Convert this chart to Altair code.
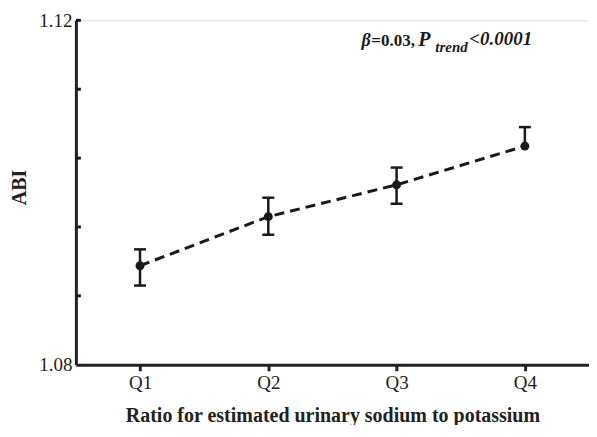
import altair as alt
import pandas as pd

quartiles = ["Q1", "Q2", "Q3", "Q4"]
abi_mean = [1.0915, 1.0972, 1.1009, 1.1054]
ci_low = [1.0892, 1.0951, 1.0987, 1.1054]
ci_high = [1.0934, 1.0994, 1.1029, 1.1076]
y_minor_ticks = [1.088, 1.096, 1.104, 1.112, 1.12]
y_labels = [1.08, 1.12]

FONT = "'Liberation Serif', 'Times New Roman', 'DejaVu Serif', serif"

df = pd.DataFrame({"q": quartiles, "abi": abi_mean, "lo": ci_low, "hi": ci_high})
caps = pd.DataFrame({
    "q": quartiles + quartiles,
    "v": ci_low + ci_high,
    "m": abi_mean + abi_mean,
})
caps = caps[caps["v"] != caps["m"]]
ticks_df = pd.DataFrame({"t": y_minor_ticks})

xs = alt.Scale(type="point", domain=quartiles, padding=0.5)
ys = alt.Scale(domain=[1.08, 1.12], nice=False, zero=False)

x_enc = alt.X("q:N", scale=xs, sort=quartiles,
              axis=alt.Axis(title="Ratio for estimated urinary sodium to potassium",
                            labelAngle=0, labelFontSize=19, labelFont=FONT, labelColor="#222",
                            titleFont=FONT, titleFontSize=20, titleFontWeight="bold",
                            titleColor="#222", titlePadding=13,
                            domainColor="#222", domainWidth=3, tickColor="#222",
                            tickWidth=3, tickSize=6, labelPadding=3, grid=False))
y_enc = alt.Y("abi:Q", scale=ys,
              axis=alt.Axis(title="ABI", values=y_labels, format=".2f",
                            labelFontSize=19, labelFont=FONT, labelColor="#222",
                            titleFont=FONT, titleFontSize=20, titleFontWeight="bold",
                            titleColor="#222", titleX=-56, titleY=167, titleAngle=-90,
                            titleAlign="center", titleBaseline="middle",
                            domainColor="#222", domainWidth=3, tickSize=0,
                            labelPadding=4, grid=False))

line = alt.Chart(df).mark_line(color="#1a1a1a", strokeWidth=3, strokeDash=[10, 6]).encode(
    x=x_enc, y=y_enc)
pts = alt.Chart(df).mark_point(filled=True, color="#1a1a1a", size=80, opacity=1).encode(
    x="q:N", y="abi:Q")
bars = alt.Chart(df).mark_rule(color="#1a1a1a", strokeWidth=2.5).encode(
    x="q:N", y="lo:Q", y2="hi:Q")
cap = alt.Chart(caps).mark_tick(color="#1a1a1a", orient="horizontal", size=12,
                                 thickness=2.5, opacity=1).encode(
    x="q:N", y=alt.Y("v:Q"))
yt = alt.Chart(ticks_df).mark_rule(color="#1a1a1a", strokeWidth=3).encode(
    x=alt.value(0), x2=alt.value(5), y=alt.Y("t:Q"))

def txt(s, x, y, size=17, style="italic"):
    return alt.Chart(pd.DataFrame({"s": [s]})).mark_text(
        font=FONT, fontSize=size, fontWeight="bold", fontStyle=style,
        align="left", baseline="alphabetic", color="#1a1a1a").encode(
        text="s:N", x=alt.value(x), y=alt.value(y))

ann = (txt("β", 286, 25.5, size=18) + txt("=0.03,", 296, 25.5, size=17, style="normal") +
       txt("P", 343, 25.5, size=20) + txt("trend", 360, 31.5, size=15) +
       txt("<0.0001", 394, 24.5, size=19))

chart = alt.layer(line, bars, cap, pts, yt, ann).properties(
    width=514, height=345,
    autosize=alt.AutoSizeParams(type="none"),
    padding={"left": 68, "top": 12, "right": 0, "bottom": 60},
).configure_view(stroke=None).configure(background="white")

chart.save("out.html", embed_options={"renderer": "svg", "actions": False})
